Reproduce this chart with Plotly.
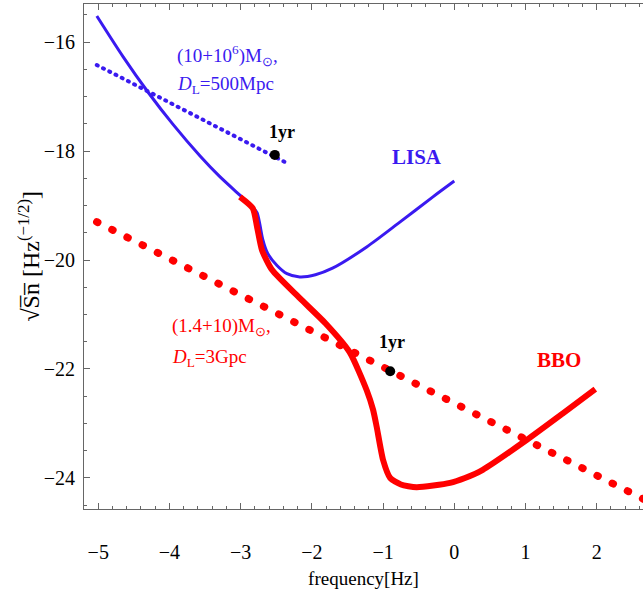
import plotly.graph_objects as go

# ---- data (log10 frequency, log10 sqrt(Sn)) ----
lisa_x = [-5.02, -4.65, -4.30, -3.95, -3.57, -3.30, -3.01, -2.83, -2.77, -2.73, -2.69, -2.62,
          -2.49, -2.35, -2.17, -1.95, -1.71, -1.23, -0.76, -0.30, 0.0]
lisa_y = [-15.52, -16.27, -16.92, -17.51, -18.09, -18.46, -18.81, -19.03, -19.13, -19.35, -19.62, -19.88,
          -20.10, -20.25, -20.31, -20.27, -20.15, -19.76, -19.30, -18.84, -18.55]

bbo_x = [-3.01, -2.83, -2.77, -2.70, -2.56, -2.17, -1.81, -1.47, -1.23, -1.14, -1.09, -1.00,
         -0.90, -0.75, -0.53, -0.06, 0.15, 0.40, 1.02, 1.53, 1.98]
bbo_y = [-18.84, -19.05, -19.39, -19.82, -20.18, -20.70, -21.16, -21.69, -22.39, -22.75, -23.06, -23.67,
         -24.00, -24.12, -24.17, -24.09, -24.00, -23.85, -23.30, -22.81, -22.37]

# inspiral tracks (straight dotted lines)
emri_x = [-5.02, -2.38]
emri_y = [-16.42, -18.20]
nsbh_x = [-5.02, 2.72]
nsbh_y = [-19.30, -24.43]

# "1yr" markers
yr_x = [-2.52, -0.90]
yr_y = [-18.07, -22.04]

BLUE = "#3A1AF0"
RED = "#FF0000"
FONT = "Liberation Serif"

fig = go.Figure()
fig.add_trace(go.Scatter(x=lisa_x, y=lisa_y, mode="lines", line=dict(color=BLUE, width=3, shape="spline", smoothing=0.8)))
fig.add_trace(go.Scatter(x=bbo_x, y=bbo_y, mode="lines", line=dict(color=RED, width=6, shape="spline", smoothing=0.6)))
fig.add_trace(go.Scatter(x=emri_x, y=emri_y, mode="lines", line=dict(color=BLUE, width=4, dash="1px,6px")))
fig.add_trace(go.Scatter(x=nsbh_x, y=nsbh_y, mode="lines", line=dict(color=RED, width=7.5, dash="1px,16px")))
fig.add_trace(go.Scatter(x=yr_x, y=yr_y, mode="markers", marker=dict(color="black", size=10)))

ann = [
    dict(x=-3.92, y=-16.24, text="(10+10<sup>6</sup>)M<sub>⊙</sub>,", color=BLUE, size=19, xanchor="left"),
    dict(x=-3.92, y=-16.79, text="<i>D</i><sub>L</sub>=500Mpc", color=BLUE, size=19, xanchor="left"),
    dict(x=-2.42, y=-17.65, text="<b>1yr</b>", color="black", size=18, xanchor="center"),
    dict(x=-0.52, y=-18.11, text="<b>LISA</b>", color=BLUE, size=21, xanchor="center"),
    dict(x=-3.99, y=-21.23, text="(1.4+10)M<sub>⊙</sub>,", color=RED, size=19, xanchor="left"),
    dict(x=-3.99, y=-21.80, text="<i>D</i><sub>L</sub>=3Gpc", color=RED, size=19, xanchor="left"),
    dict(x=-0.88, y=-21.50, text="<b>1yr</b>", color="black", size=18, xanchor="center"),
    dict(x=1.47, y=-21.83, text="<b>BBO</b>", color=RED, size=21, xanchor="center"),
]
for a in ann:
    fig.add_annotation(x=a["x"], y=a["y"], text=a["text"], showarrow=False, xanchor=a["xanchor"],
                       yanchor="middle", font=dict(family=FONT, size=a["size"], color=a["color"]))

fig.add_annotation(xref="paper", yref="paper", x=-0.1, y=0.5,
                   text="√S\u0305n\u0305 [Hz<sup>(−1/2)</sup>]",
                   textangle=-90, showarrow=False, xanchor="center", yanchor="middle",
                   font=dict(family=FONT, size=24, color="black"))

axis_common = dict(showgrid=False, zeroline=False, showline=True, linecolor="#666666", linewidth=1,
                   ticks="inside", tickcolor="#666666", tickwidth=1, automargin=False,
                   tickfont=dict(family=FONT, size=20, color="black"))

fig.update_layout(
    width=643, height=589, showlegend=False,
    margin=dict(l=84, r=0, t=4, b=80),
    paper_bgcolor="white", plot_bgcolor="white",
    xaxis=dict(range=[-5.20, 2.65], dtick=1, ticklen=6, mirror="ticks",
               minor=dict(dtick=0.2, ticks="inside", ticklen=3, tickcolor="#666666"),
               ticklabelstandoff=25,
               title=dict(text="frequency[Hz]", font=dict(family=FONT, size=19, color="black"), standoff=9),
               **axis_common),
    yaxis=dict(range=[-24.57, -15.30], dtick=2, ticklen=6,
               minor=dict(dtick=0.5, ticks="inside", ticklen=3, tickcolor="#666666"),
               ticklabelstandoff=4,
               **axis_common),
)

post = """
document.documentElement.style.margin = '0';
document.body.style.margin = '0';
document.body.style.padding = '0';
var gd = document.getElementById('{plot_id}');
function roundCaps(){
  var ps = gd.querySelectorAll('.scatterlayer path.js-line');
  ps.forEach(function(p){
    if (p.style.strokeDasharray && p.style.strokeDasharray !== 'none') {
      p.style.strokeLinecap = 'round';
    }
  });
}
roundCaps();
gd.on('plotly_afterplot', roundCaps);
"""
fig.write_html("out.html", post_script=post, config={"displayModeBar": False})
